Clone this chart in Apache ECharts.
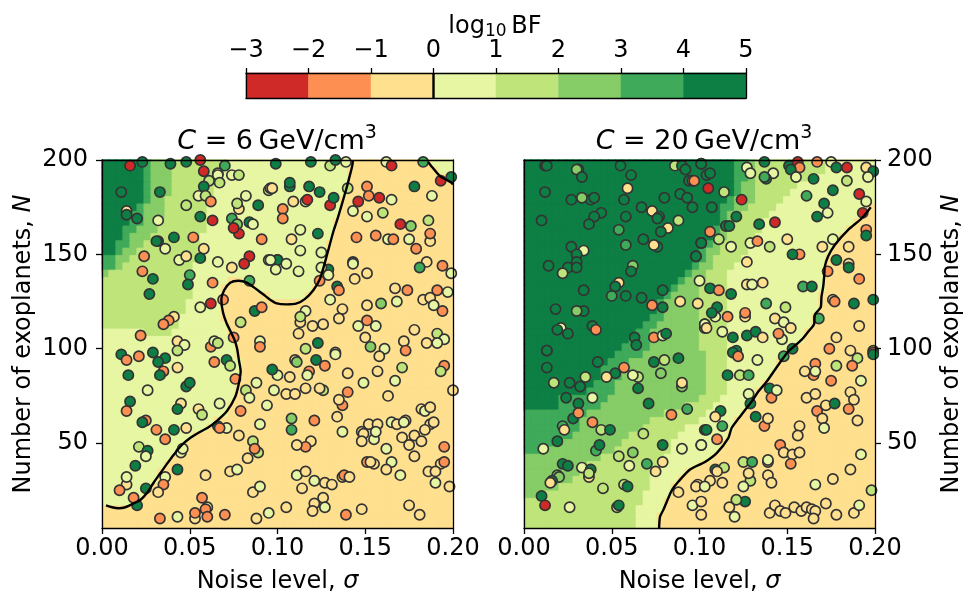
<!DOCTYPE html>
<html><head><meta charset="utf-8">
<style>html,body{margin:0;padding:0;background:#fff}#c{width:963px;height:591px}</style>
<script src="https://cdn.jsdelivr.net/npm/echarts@6/dist/echarts.min.js"></script>
</head><body><div id="c"></div>
<script>
const bfTicks=[-3,-2,-1,0,1,2,3,4,5];
const sigmaTicks=[0,0.05,0.1,0.15,0.2];
const planetTicks=[50,100,150,200];
const colours=['#cf2a27','#fd8f52','#fee08f','#e7f6a2','#bfe57a','#86cc67','#3faa59','#0e7f44'];
// Each row, top to bottom: bin, last grid column of that bin, ...; the rest of the row is bin 2.
const grid6=[
[7,6,6,7,5,10,4,18,3,36,2,47,3,50],[7,6,6,7,5,10,4,17,3,35,2,48,3,50],[7,6,6,7,5,10,4,16,3,35,2,49,3,50],
[7,6,6,7,5,10,4,16,3,35],[7,6,6,7,5,10,4,16,3,35],[7,6,6,7,5,9,4,15,3,34],[7,5,6,6,5,9,4,15,3,34],
[7,4,6,6,5,9,4,15,3,34],[7,4,6,6,5,8,4,15,3,33],[7,3,6,5,5,8,4,15,3,33],[7,3,6,4,5,7,4,14,3,33],
[7,2,6,4,5,6,4,14,3,32],[7,2,6,3,5,5,4,14,3,32],[6,2,5,4,4,14,3,32],[6,2,5,3,4,13,3,31],[5,1,4,13,3,31],
[4,13,3,18,2,20,3,31],[4,13,3,17,2,22,3,30],[4,13,3,17,2,24,3,29],[4,12,3,17],[4,12,3,17],[4,11,3,17],[4,11,3,18],
[3,6,4,10,3,18],[3,19],[3,19],[3,19],[3,20],[3,20],[3,20],[3,19],[3,19],[3,19],[3,18],[3,18],[3,16],[3,15],[3,13],
[3,12],[3,11],[3,10],[3,9],[3,8],[3,8],[3,7],[3,6],[3,5],[],[],[]];
const grid20=[
[7,30,6,32,5,33,4,43,3,50],[7,30,6,32,5,33,4,43,3,50],[7,30,6,32,5,33,4,41,3,50],[7,30,6,31,5,33,4,39,3,50],
[7,30,6,31,5,33,4,38,3,50],[7,29,6,30,5,33,4,37,3,50],[7,28,6,30,5,32,4,36,3,49],[7,28,6,29,5,31,4,35,3,48],
[7,28,6,29,5,30,4,34,3,47],[7,27,6,28,5,29,4,34,3,46],[7,27,6,28,5,29,4,33,3,45],[7,26,6,27,5,28,4,32,3,44],
[7,25,6,26,5,28,4,32,3,44],[7,25,6,26,5,27,4,31,3,43],[7,24,6,25,5,27,4,30,3,43],[7,23,6,24,5,26,4,29,3,43],
[7,22,6,23,5,26,4,29,3,43],[7,21,6,22,5,25,4,29,3,43],[7,20,6,21,5,25,4,29,3,42],[7,19,6,20,5,25,4,29,3,42],
[7,19,6,20,5,25,4,29,3,42],[7,18,6,20,5,25,4,29,3,41],[7,17,6,19,5,25,4,29,3,41],[7,16,6,18,5,25,4,29,3,40],
[7,15,6,18,5,25,4,29,3,40],[7,14,6,18,5,25,4,29,3,39],[7,13,6,17,5,26,4,29,3,37],[7,12,6,15,5,26,4,29,3,36],
[7,11,6,14,5,26,4,29,3,36],[7,11,6,14,5,26,4,29,3,35],[7,10,6,13,5,26,4,29,3,34],[7,9,6,13,5,26,4,29,3,33],
[7,5,6,12,5,25,4,28,3,32],[7,5,6,11,5,23,4,27,3,32],[6,9,5,20,4,26,3,31],[6,8,5,18,4,25,3,30],[6,8,5,17,4,23,3,30],
[6,7,5,15,4,22,3,29],[6,5,5,14,4,21,3,28],[6,3,5,13,4,21,3,28],[5,11,4,20,3,27],[5,9,4,19,3,25],[5,8,4,18,3,23],
[5,7,4,18,3,22],[5,5,4,18,3,21],[5,2,4,17,3,21],[4,17,3,20],[4,16,3,20],[4,16,3,19],[4,16,3,19]];
// sigma, N, colour bin of log10 BF
const points6=[[.016,197,0],[.023,199,7],[.039,198,7],[.048,199,7],[.056,200,0],[.058,194,0],[.070,197,6],[.066,193,3],[.066,192,3],[.061,189,4],[.067,188,4],[.074,192,3],[.078,192,4],[.058,186,7],[.011,183,7],[.033,183,7],[.055,181,3],[.059,181,4],[.062,178,1],[.048,176,4],[.082,181,3],[.078,174,2],[.077,177,4],[.089,176,7],[.095,184,3],[.096,185,2],[.014,173,2],[.014,171,7],[.020,169,7],[.032,168,3],[.056,170,7],[.063,168,0],[.074,169,6],[.077,166,5],[.084,167,7],[.086,166,3],[.078,161,0],[.075,164,0],[.041,159,7],[.032,157,7],[.031,157,7],[.036,153,3],[.052,159,1],[.058,153,2],[.024,149,1],[.044,147,3],[.048,149,2],[.056,148,7],[.066,146,3],[.074,143,2],[.084,149,0],[.081,145,0],[.091,158,1],[.095,147,3],[.100,147,7],[.023,141,1],[.029,137,7],[.050,139,6],[.049,134,7],[.063,135,1],[.084,136,6],[.027,129,7],[.056,122,3],[.062,124,0],[.069,126,1],[.087,120,7],[.091,122,1],[.079,114,4],[.041,117,2],[.038,115,1],[.035,113,1],[.022,107,1],[.043,104,2],[.047,102,3],[.062,101,1],[.064,104,3],[.066,103,4],[.075,106,1],[.090,104,3],[.090,101,1],
[.099,198,7],[.119,199,7],[.130,197,4],[.133,200,7],[.139,199,3],[.162,199,3],[.165,197,0],[.183,199,6],[.107,186,7],[.107,188,7],[.118,186,7],[.124,183,7],[.097,185,2],[.103,174,1],[.103,169,1],[.109,178,2],[.116,178,3],[.117,179,0],[.130,176,0],[.132,180,7],[.140,185,4],[.151,186,1],[.152,181,1],[.158,180,0],[.146,178,0],[.165,179,3],[.143,173,3],[.151,170,3],[.160,172,4],[.178,186,7],[.188,181,3],[.193,189,0],[.199,191,7],[.170,166,0],[.176,165,5],[.186,168,4],[.187,157,2],[.187,161,1],[.113,163,3],[.123,161,7],[.108,158,2],[.145,159,1],[.156,160,1],[.163,158,3],[.166,158,1],[.175,158,3],[.179,153,1],[.113,152,3],[.125,151,3],[.100,147,7],[.105,145,3],[.099,142,3],[.112,141,3],[.096,147,3],[.143,146,7],[.143,145,3],[.185,146,2],[.181,143,6],[.194,144,1],[.199,140,3],[.129,142,7],[.125,143,3],[.129,139,3],[.124,136,1],[.151,140,2],[.144,137,2],[.134,133,7],[.135,131,1],[.130,126,3],[.167,132,2],[.174,131,1],[.168,125,3],[.183,126,2],[.187,127,2],[.191,131,1],[.197,130,3],[.189,123,3],[.194,120,1],[.151,123,2],[.159,124,5],[.137,121,2],[.135,116,2],[.116,120,3],[.113,114,2],[.113,117,4],[.120,112,2],[.126,113,2],[.112,108,2],[.146,112,3],[.156,112,3],[.151,115,1],[.178,110,2],[.150,106,2],[.191,108,4],[.195,105,3],[.191,103,3],[.185,103,2],[.172,104,2],[.173,99,1],[.161,100,3],[.153,101,5],[.123,103,7],[.116,100,4],[.133,98,2],
[.011,97,7],[.014,94,1],[.021,96,1],[.029,98,7],[.036,95,7],[.032,93,7],[.043,99,4],[.043,90,2],[.035,88,1],[.033,86,7],[.015,86,7],[.064,93,1],[.071,94,7],[.073,91,4],[.076,84,1],[.100,86,3],[.097,89,7],[.088,82,3],[.098,78,3],[.026,78,3],[.048,80,7],[.050,82,7],[.082,78,4],[.084,74,3],[.094,70,3],[.016,72,7],[.014,67,1],[.045,71,2],[.043,68,7],[.055,68,2],[.057,65,4],[.067,71,3],[.079,67,1],[.025,62,1],[.023,61,7],[.031,57,1],[.041,57,7],[.048,58,2],[.036,52,1],[.066,59,7],[.071,58,3],[.067,58,1],[.078,54,2],[.090,60,3],[.086,51,4],[.089,45,4],[.087,47,1],[.083,42,2],[.021,48,4],[.026,46,7],[.025,43,3],[.045,45,3],[.046,47,3],[.019,38,7],[.043,36,7],[.036,32,3],[.014,28,2],[.014,32,3],[.010,25,1],[.035,28,1],[.025,26,7],[.032,24,2],[.059,33,2],[.073,35,2],[.077,36,3],[.086,24,2],[.090,27,3],[.020,17,7],[.018,21,1],[.057,21,1],[.060,16,3],[.059,15,1],[.033,10,1],[.043,11,3],[.053,10,2],[.053,13,1],[.060,11,1],[.070,12,1],[.088,10,2],[.095,13,3],
[.133,97,3],[.158,96,2],[.110,94,2],[.111,93,5],[.122,94,7],[.127,91,1],[.118,88,1],[.117,86,3],[.107,85,2],[.140,87,2],[.157,88,2],[.171,90,4],[.195,91,1],[.193,88,4],[.149,82,3],[.167,83,3],[.105,76,2],[.110,76,2],[.116,79,2],[.126,78,4],[.124,79,2],[.140,77,1],[.137,70,1],[.135,73,2],[.163,75,2],[.200,78,2],[.134,64,2],[.108,63,5],[.108,57,6],[.121,62,1],[.137,56,3],[.119,51,2],[.116,48,1],[.111,49,2],[.182,68,2],[.184,67,3],[.187,69,2],[.187,60,2],[.189,61,2],[.184,57,2],[.152,60,2],[.157,60,2],[.148,56,2],[.149,55,2],[.148,51,2],[.155,52,3],[.156,56,3],[.165,61,3],[.168,60,2],[.173,62,2],[.172,61,3],[.171,53,2],[.178,54,2],[.175,49,2],[.182,51,2],[.162,47,3],[.178,43,2],[.195,48,1],[.151,40,1],[.155,39,2],[.153,40,2],[.165,40,3],[.162,36,2],[.170,33,3],[.193,39,2],[.195,40,1],[.186,35,2],[.190,35,2],[.190,29,3],[.198,27,2],[.111,33,3],[.116,35,2],[.121,30,3],[.127,29,2],[.131,28,2],[.114,26,2],[.137,32,2],[.138,33,1],[.141,32,2],[.126,21,2],[.121,18,2],[.127,16,3],[.120,14,2],[.105,16,2],[.139,12,1],[.148,15,2],[.175,17,2],[.181,12,2]];
const points20=[[.012,197,7],[.013,197,7],[.031,195,7],[.030,195,5],[.033,191,7],[.055,197,7],[.061,192,7],[.086,197,4],[.090,197,7],[.092,195,7],[.101,198,7],[.094,189,7],[.096,189,1],[.104,192,7],[.012,183,7],[.059,185,2],[.027,179,7],[.038,179,7],[.033,180,5],[.040,180,7],[.057,179,7],[.080,180,7],[.089,182,7],[.093,180,7],[.096,175,7],[.067,175,7],[.073,173,2],[.077,170,7],[.076,169,7],[.044,172,7],[.040,170,7],[.037,166,7],[.058,170,7],[.010,168,7],[.088,168,4],[.082,164,2],[.078,162,7],[.054,163,6],[.068,158,7],[.101,156,7],[.058,155,6],[.076,154,7],[.074,155,2],[.027,154,7],[.034,152,3],[.030,150,7],[.030,146,7],[.098,149,7],[.014,144,7],[.025,143,7],[.030,143,7],[.022,140,4],[.062,144,5],[.061,141,7],[.100,136,3],[.054,135,2],[.052,133,7],[.034,131,7],[.079,131,7],[.050,128,6],[.058,128,7],[.067,127,7],[.073,123,1],[.079,122,7],[.089,125,2],[.099,124,2],[.018,121,7],[.034,120,7],[.030,120,5],[.039,112,7],[.041,110,1],[.021,111,3],[.019,110,7],[.025,108,7],[.063,106,7],[.064,102,7],[.074,106,1],[.079,107,3],[.081,108,7],[.103,113,6],[.103,111,2],[.013,99,7],
[.101,198,7],[.106,193,7],[.097,189,1],[.137,199,7],[.127,196,3],[.129,193,3],[.142,193,3],[.138,190,7],[.137,191,6],[.151,197,7],[.156,199,0],[.157,196,1],[.152,195,7],[.155,191,3],[.167,199,1],[.175,199,3],[.178,196,7],[.184,196,0],[.195,196,2],[.199,194,7],[.196,191,3],[.165,190,7],[.184,189,4],[.105,185,0],[.114,183,4],[.161,181,6],[.176,184,7],[.191,182,0],[.195,178,3],[.124,179,0],[.107,175,7],[.171,177,7],[.193,172,0],[.121,170,7],[.173,172,3],[.167,170,7],[.134,166,7],[.143,167,0],[.115,165,7],[.117,165,7],[.106,162,1],[.195,163,1],[.195,160,7],[.150,158,2],[.101,156,7],[.111,158,4],[.129,156,3],[.133,157,1],[.118,154,3],[.140,154,4],[.176,158,3],[.170,154,2],[.185,154,2],[.157,150,1],[.153,150,7],[.098,149,7],[.127,146,2],[.178,147,7],[.185,145,2],[.185,143,7],[.173,141,1],[.191,137,1],[.106,132,7],[.111,131,1],[.118,129,7],[.127,134,2],[.130,134,3],[.136,135,2],[.159,133,6],[.164,133,7],[.138,124,6],[.149,122,4],[.176,126,2],[.177,125,1],[.188,124,7],[.199,126,7],[.110,122,7],[.109,117,3],[.107,119,7],[.116,117,1],[.126,117,2],[.126,119,1],[.143,116,2],[.168,116,6],[.148,114,3],[.152,111,2],[.103,113,3],[.104,111,2],[.113,109,3],[.119,106,7],[.127,107,7],[.132,109,7],[.136,106,2],[.147,105,3],[.145,108,1],[.191,112,2],[.178,106,2],[.153,100,7],[.121,99,7],[.174,100,1],[.199,99,1],
[.013,99,7],[.013,90,7],[.042,93,7],[.074,93,7],[.080,94,4],[.088,95,7],[.052,87,7],[.057,90,1],[.047,85,2],[.035,85,4],[.017,82,4],[.026,82,7],[.032,80,7],[.065,85,4],[.062,86,3],[.078,87,5],[.090,80,5],[.090,82,2],[.065,79,7],[.024,74,7],[.039,74,3],[.031,71,7],[.028,63,7],[.031,66,1],[.071,71,7],[.084,65,1],[.093,68,6],[.022,59,6],[.023,57,2],[.039,61,1],[.044,57,4],[.049,57,7],[.068,55,4],[.103,57,7],[.019,51,7],[.011,47,3],[.041,46,6],[.043,49,7],[.079,49,7],[.090,47,3],[.101,49,3],[.062,45,5],[.054,43,4],[.060,38,3],[.070,39,6],[.075,35,2],[.079,40,2],[.022,39,7],[.025,38,7],[.033,37,3],[.037,32,2],[.038,36,7],[.037,34,4],[.019,33,5],[.020,32,5],[.016,30,7],[.015,29,2],[.045,26,4],[.057,28,4],[.059,27,7],[.088,24,2],[.099,28,2],[.098,27,2],[.010,22,7],[.012,17,0],[.026,16,3],[.053,16,3],[.054,17,7],[.096,17,3],[.101,19,2],[.101,12,2],
[.119,98,7],[.122,96,1],[.133,94,3],[.148,96,6],[.186,99,2],[.190,95,4],[.187,91,1],[.178,91,4],[.199,98,1],[.199,97,7],[.166,92,1],[.165,86,1],[.160,88,2],[.166,88,3],[.175,83,1],[.192,83,3],[.116,86,7],[.123,86,4],[.128,86,6],[.128,76,3],[.129,71,7],[.140,79,7],[.141,74,1],[.144,78,3],[.161,74,2],[.166,76,2],[.172,70,2],[.177,71,7],[.186,77,2],[.188,73,2],[.185,68,1],[.167,67,1],[.170,63,2],[.190,62,2],[.171,58,3],[.132,64,7],[.137,59,1],[.139,63,2],[.112,67,7],[.109,64,2],[.113,59,6],[.104,57,7],[.110,52,1],[.101,49,3],[.157,59,2],[.156,54,2],[.146,49,1],[.148,45,2],[.153,44,2],[.157,45,2],[.152,39,1],[.192,44,3],[.139,40,2],[.139,41,3],[.125,40,4],[.130,40,6],[.109,36,7],[.114,37,4],[.110,35,2],[.129,30,4],[.128,34,2],[.125,27,3],[.139,33,2],[.141,29,2],[.106,30,2],[.103,27,3],[.113,29,2],[.186,36,2],[.176,31,2],[.166,28,3],[.198,25,4],[.126,19,7],[.121,20,4],[.117,16,2],[.120,11,3],[.140,13,2],[.143,17,2],[.146,14,2],[.149,13,2],[.154,16,2],[.158,14,2],[.161,16,2],[.164,15,2],[.166,14,2],[.165,10,2],[.172,18,2],[.178,12,2],[.188,13,2],[.191,17,3]];
// log10 BF = 0 contours
const contour6=[[.0023,17],[.0057,16],[.0095,15.5],[.0133,16],[.018,18],[.022,20],[.0256,23.5],[.0294,29],[.0332,34],[.037,39],[.041,44],[.0455,49],[.050,52.6],[.055,55.5],[.060,58],[.065,61.4],[.071,66.7],[.076,74.7],[.078,81.7],[.079,88],[.078,94],[.077,100],[.0755,104.7],[.0736,108.5],[.071,113.5],[.069,119],[.068,126],[.0696,131],[.073,135],[.0777,136],[.0825,135],[.088,131.5],[.093,128],[.0958,126],[.0996,124],[.105,123.5],[.111,124],[.1157,126.4],[.1204,131],[.1242,137],[.128,149],[.1318,162],[.1346,170],[.1365,176],[.139,184],[.1403,188.5],[.1426,197],[.143,200]];
const contour6b=[[.1858,199],[.1888,195.5],[.1925,191.5],[.1991,188],[.2,187]];
const contour20=[[.1976,175],[.1923,169],[.1847,163],[.1771,155],[.1733,149],[.1714,143.5],[.1711,139],[.1705,133],[.1695,127.5],[.1691,122],[.1657,118],[.1653,113],[.1619,109],[.1581,104.7],[.1506,98.5],[.1449,91.4],[.1383,82.6],[.1335,77.3],[.1297,72],[.1222,63],[.1183,58],[.1164,52.6],[.1098,44.7],[.1031,40],[.0946,36],[.088,29.6],[.0842,25],[.0823,21],[.0794,14.6],[.0775,11],[.077,5]];
const zeroLine=[[0,0],[0,1]];

const FONT='DejaVu Sans',FS=24,BLACK='#000';
const line={lineStyle:{color:BLACK,width:1.3}};
const xAxis=[],yAxis=[],series=[],grids=[];
const hidden=(n,gridIndex)=>({type:'category',gridIndex,show:false,data:Array.from({length:n},(_,i)=>i),boundaryGap:true});
function cells(rows){
  const out=[];
  rows.forEach((row,r)=>{
    const lv=new Array(50).fill(2);let c=0;
    for(let i=0;i<row.length;i+=2){for(;c<row[i+1];c++)lv[c]=row[i];}
    lv.forEach((v,k)=>out.push({value:[k,49-r,v],itemStyle:{borderColor:colours[v],borderWidth:0.8}}));
  });
  return out;
}
const rich={i:{fontStyle:'italic',fontFamily:FONT,fontSize:FS,color:BLACK}};
const bare=(o)=>Object.assign({splitLine:{show:false},axisTick:{show:false},axisLabel:{show:false},z:10,axisLine:{show:true,onZero:false,lineStyle:line.lineStyle}},o);
function panel(idx,left,rows,pts,conts,yPos){
  const g=grids.length;
  grids.push({left,width:351,top:160,height:368,outerBoundsMode:'none'});
  const x0=xAxis.length,y0=yAxis.length;
  xAxis.push(bare({type:'value',gridIndex:g,position:'bottom',min:0,max:.2,
    axisTick:{show:true,length:6,customValues:sigmaTicks,lineStyle:line.lineStyle},
    axisLabel:{show:true,customValues:sigmaTicks,formatter:v=>v.toFixed(2),fontFamily:FONT,fontSize:FS,color:BLACK,margin:9,hideOverlap:false},
    name:'Noise level, {i|σ}',nameLocation:'middle',nameGap:42,nameTextStyle:{fontFamily:FONT,fontSize:FS,color:BLACK,rich}}));
  xAxis.push(bare({type:'value',gridIndex:g,position:'top',min:0,max:.2}));
  xAxis.push(hidden(50,g));
  yAxis.push(bare({type:'value',gridIndex:g,position:yPos,min:5,max:200,
    axisTick:{show:true,length:6,customValues:planetTicks,lineStyle:line.lineStyle},
    axisLabel:{show:true,customValues:planetTicks,fontFamily:FONT,fontSize:FS,color:BLACK,margin:yPos==='left'?14:12},
    name:'Number of exoplanets, {i|N}',nameLocation:'middle',nameRotate:90,nameGap:yPos==='left'?66:65,nameTextStyle:{fontFamily:FONT,fontSize:FS,color:BLACK,rich}}));
  yAxis.push(bare({type:'value',gridIndex:g,position:yPos==='left'?'right':'left',min:5,max:200}));
  yAxis.push(hidden(50,g));
  series.push({type:'heatmap',xAxisIndex:x0+2,yAxisIndex:y0+2,data:cells(rows),z:1,silent:true,emphasis:{disabled:true},progressive:0});
  series.push({type:'scatter',xAxisIndex:x0,yAxisIndex:y0,data:pts,symbol:'circle',symbolSize:10.2,z:3,clip:true,silent:true,
    itemStyle:{color:p=>colours[p.data[2]],borderColor:'#333',borderWidth:1.7,opacity:1}});
  conts.forEach(c=>series.push({type:'line',xAxisIndex:x0,yAxisIndex:y0,data:c,showSymbol:false,smooth:0.25,z:4,clip:true,silent:true,lineStyle:{color:BLACK,width:2.4}}));
}
panel(0,102,grid6,points6,[contour6,contour6b],'left');
panel(1,524,grid20,points20,[contour20],'right');

// colour bar
{
  const g=grids.length;
  grids.push({left:246,width:500,top:73,height:25,outerBoundsMode:'none'});
  const x0=xAxis.length,y0=yAxis.length;
  xAxis.push(bare({type:'value',gridIndex:g,position:'top',min:bfTicks[0],max:bfTicks[bfTicks.length-1],interval:1,
    axisTick:{show:true,length:5,lineStyle:line.lineStyle},
    axisLabel:{show:true,formatter:v=>String(v).replace('-','\u2212'),fontFamily:FONT,fontSize:FS,color:BLACK,margin:10}}));
  xAxis.push(bare({type:'value',gridIndex:g,position:'bottom',min:-3,max:5,interval:1}));
  xAxis.push(hidden(8,g));
  yAxis.push(bare({type:'value',gridIndex:g,position:'left',min:0,max:1}));
  yAxis.push(bare({type:'value',gridIndex:g,position:'right',min:0,max:1}));
  yAxis.push(hidden(1,g));
  series.push({type:'heatmap',xAxisIndex:x0+2,yAxisIndex:y0+2,data:colours.map((_,i)=>[i,0,i]),z:1,silent:true,emphasis:{disabled:true}});
  series.push({type:'line',xAxisIndex:x0,yAxisIndex:y0,data:zeroLine,showSymbol:false,z:4,silent:true,lineStyle:{color:BLACK,width:2.4}});
}
const tRich={
  i:{fontFamily:FONT,fontStyle:'italic',fontSize:27,color:BLACK},
  s:{fontFamily:FONT,fontSize:19,color:BLACK,padding:[0,0,16,0]},
  b:{fontFamily:FONT,fontSize:17,color:BLACK,padding:[9,0,0,0]}
};
const heatIdx=series.map((s,i)=>s.type==='heatmap'?i:-1).filter(i=>i>=0);
const chart=echarts.init(document.getElementById('c'),null,{renderer:'canvas'});
chart.setOption({
  animation:false,
  textStyle:{fontFamily:FONT},
  grid:grids,xAxis,yAxis,series,
  tooltip:{show:false},
  visualMap:{show:false,type:'piecewise',seriesIndex:heatIdx,dimension:2,
    pieces:colours.map((c,i)=>({value:i,color:c}))},
  title:[
    {text:'{i|C} = 6\u2009GeV/cm{s|3}',left:272,top:119,textAlign:'center',textStyle:{fontFamily:FONT,fontWeight:'normal',fontSize:27,color:BLACK,rich:tRich}},
    {text:'{i|C} = 20\u2009GeV/cm{s|3}',left:699,top:119,textAlign:'center',textStyle:{fontFamily:FONT,fontWeight:'normal',fontSize:27,color:BLACK,rich:tRich}},
    {text:'log{b|10}\u2009BF',left:490,top:9,textAlign:'center',textStyle:{fontFamily:FONT,fontWeight:'normal',fontSize:24,color:BLACK,rich:tRich}}
  ]
});
</script></body></html>
